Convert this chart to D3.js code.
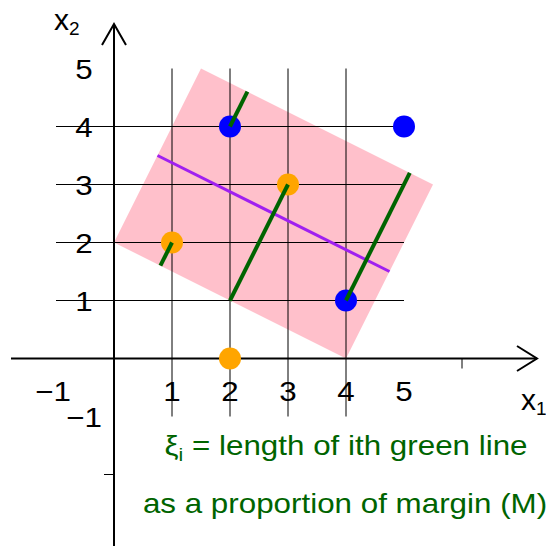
<!DOCTYPE html>
<html>
<head>
<meta charset="utf-8">
<script src="https://cdn.jsdelivr.net/npm/d3@7"></script>
<style>
  body { margin: 0; background: #fff; }
  text { font-family: "Liberation Sans", Arial, Helvetica, sans-serif; }
</style>
</head>
<body>
<div id="chart"></div>
<script>
document.addEventListener("DOMContentLoaded", function() {
    const width = 546, height = 546;

    // data
    const bluePoints = [[2, 4], [5, 4], [4, 1]];
    const orangePoints = [[1, 2], [3, 3], [2, 0]];
    const marginBand = [[0, 2], [4, 0], [5.5, 3], [1.5, 5]];
    const hyperplane = [[0.75, 3.5], [4.75, 1.5]];
    const slacks = [
        [[2, 4], [2.3, 4.6]],
        [[4, 1], [5.1, 3.2]],
        [[3, 3], [2, 1]],
        [[1, 2], [0.8, 1.6]]
    ];
    const gridX = [1, 2, 3, 4];
    const gridY = [1, 2, 3, 4];
    const xTickLabels = [-1, 1, 2, 3, 4, 5];
    const yTickLabels = [-1, 1, 2, 3, 4, 5];

    const x = d3.scaleLinear().domain([0, 1]).range([114, 172]);
    const y = d3.scaleLinear().domain([0, 1]).range([358.5, 300.5]);

    const svg = d3.select("#chart")
        .append("svg")
        .attr("width", width)
        .attr("height", height);

    const line = d3.line().x(d => x(d[0])).y(d => y(d[1]));

    // pink margin band
    svg.append("path")
        .datum(marginBand)
        .attr("d", line.curve(d3.curveLinearClosed))
        .attr("fill", "pink");
    line.curve(d3.curveLinear);

    // grid
    svg.selectAll(".gx")
        .data(gridX)
        .enter()
        .append("line")
        .attr("x1", d => x(d)).attr("x2", d => x(d))
        .attr("y1", y(-1)).attr("y2", y(5))
        .attr("stroke", "#000").attr("stroke-width", 1);

    svg.selectAll(".gy")
        .data(gridY)
        .enter()
        .append("line")
        .attr("x1", x(-1)).attr("x2", x(5))
        .attr("y1", d => y(d)).attr("y2", d => y(d))
        .attr("stroke", "#000").attr("stroke-width", 1);

    // axes with arrows
    const ax = svg.append("g").attr("stroke", "#000").attr("stroke-width", 2).attr("fill", "none");
    ax.append("line").attr("x1", 11).attr("x2", 537).attr("y1", y(0)).attr("y2", y(0));
    ax.append("path").attr("d", `M517,${y(0) - 12.5}L537,${y(0)}L517,${y(0) + 12.5}`);
    ax.append("line").attr("x1", x(0)).attr("x2", x(0)).attr("y1", 546).attr("y2", 24);
    ax.append("path").attr("d", `M${x(0) - 12},45L${x(0)},24L${x(0) + 12},45`);
    // stray ticks
    svg.append("line").attr("x1", x(6)).attr("x2", x(6)).attr("y1", y(0)).attr("y2", y(0) + 10)
        .attr("stroke", "#000").attr("stroke-width", 1);
    svg.append("line").attr("x1", x(0) - 10).attr("x2", x(0)).attr("y1", y(-2)).attr("y2", y(-2))
        .attr("stroke", "#000").attr("stroke-width", 1);

    // hyperplane
    svg.append("path")
        .datum(hyperplane)
        .attr("d", line)
        .attr("stroke", "#a020f0")
        .attr("stroke-width", 3)
        .attr("fill", "none");

    // points
    svg.selectAll(".blue")
        .data(bluePoints)
        .enter()
        .append("circle")
        .attr("cx", d => x(d[0])).attr("cy", d => y(d[1]))
        .attr("r", 11).attr("fill", "blue");

    svg.selectAll(".orange")
        .data(orangePoints)
        .enter()
        .append("circle")
        .attr("cx", d => x(d[0])).attr("cy", d => y(d[1]))
        .attr("r", 11).attr("fill", "orange");

    // slack lines
    svg.selectAll(".slack")
        .data(slacks)
        .enter()
        .append("path")
        .attr("d", line)
        .attr("stroke", "#006400")
        .attr("stroke-width", 4)
        .attr("fill", "none");

    // tick labels
    const lab = (px, py, t, size, color) => svg.append("text")
        .attr("transform", `translate(${px},${py}) scale(1.12,1)`)
        .attr("text-anchor", "middle")
        .attr("font-size", size)
        .attr("fill", color || "#000")
        .text(t);

    xTickLabels.forEach(v => lab(x(v) - (v < 0 ? 3 : 0), y(0) + 42, String(v).replace("-", "\u2212"), 28));
    yTickLabels.forEach(v => lab(84, y(v) + 10, String(v).replace("-", "\u2212"), 28));

    // axis titles
    const t2 = svg.append("text").attr("x", 54).attr("y", 30).attr("font-size", 30);
    t2.append("tspan").text("x");
    t2.append("tspan").attr("font-size", 19).attr("dy", 5).text("2");
    const t1 = svg.append("text").attr("x", 521).attr("y", 410).attr("font-size", 30);
    t1.append("tspan").text("x");
    t1.append("tspan").attr("font-size", 19).attr("dy", 5).text("1");

    // annotation
    const a1 = svg.append("text")
        .attr("transform", "translate(346,455) scale(1.12,1)")
        .attr("text-anchor", "middle")
        .attr("font-size", 28)
        .attr("fill", "#006400");
    a1.append("tspan").text("\u03be");
    a1.append("tspan").attr("font-size", 19).attr("dy", 6).text("i");
    a1.append("tspan").attr("dy", -6).text(" = length of ith green line");

    lab(345, 513, "as a proportion of margin (M)", 28, "#006400");
});
</script>
</body>
</html>
